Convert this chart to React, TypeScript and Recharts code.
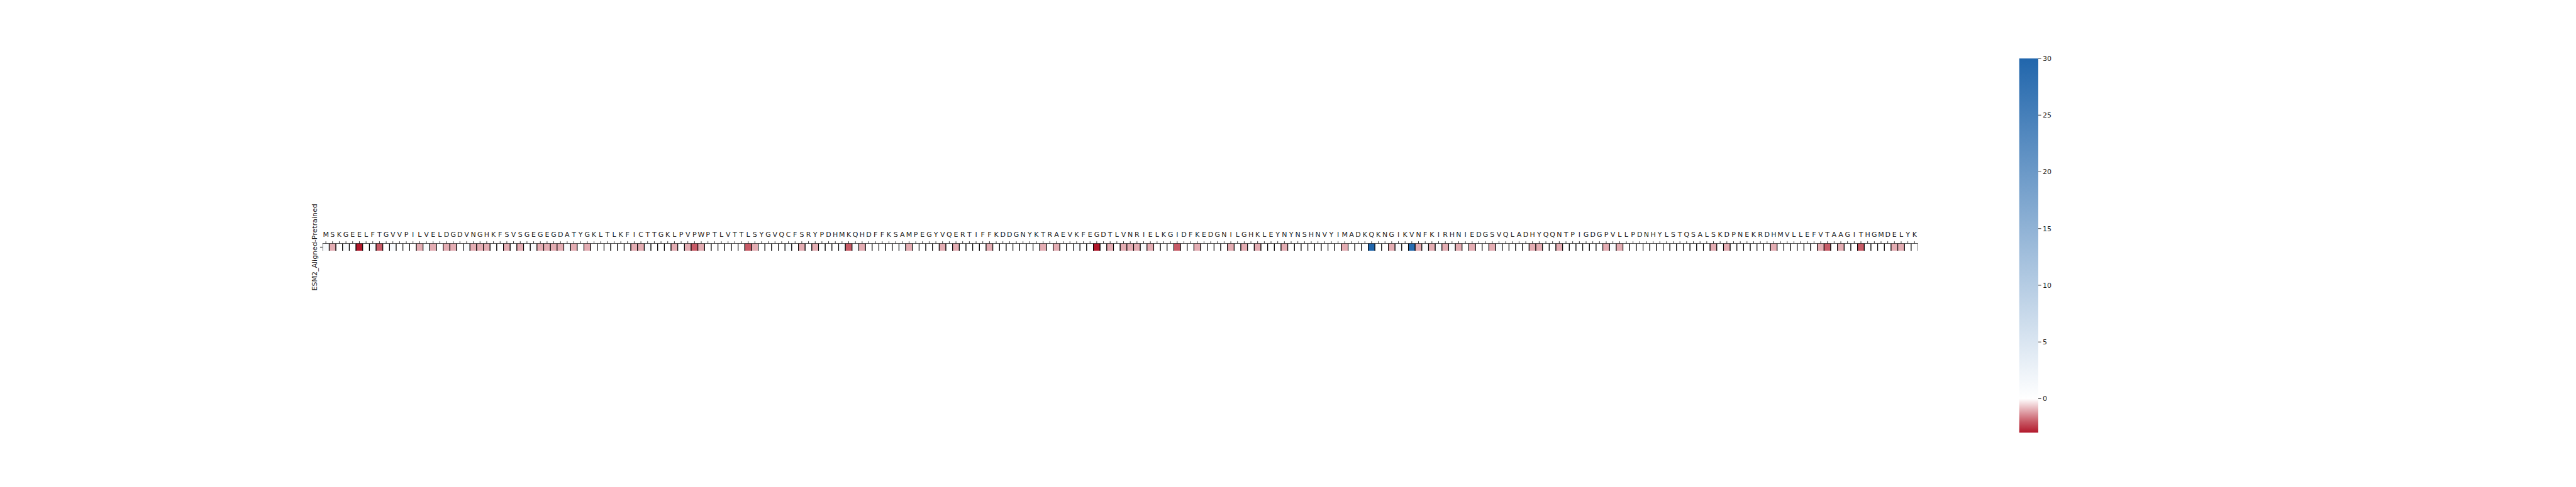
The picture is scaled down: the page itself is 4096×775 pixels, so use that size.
import {
  ComposedChart,
  ReferenceArea,
  Scatter,
  ScatterChart,
  XAxis,
  YAxis,
} from 'recharts'

// GFP sequence, one residue per column (tick labels on the top axis)
const SEQUENCE =
  'MSKGEELFTGVVPILVELDGDVNGHKFSVSGEGEGDATYGKLTLKFICTTGKLPVPWPTLVTTLSYGVQCFSRYPDHMKQ' +
  'HDFFKSAMPEGYVQERTIFFKDDGNYKTRAEVKFEGDTLVNRIELKGIDFKEDGNILGHKLEYNYNSHNVYIMADKQKNG' +
  'IKVNFKIRHNIEDGSVQLADHYQQNTPIGDGPVLLPDNHYLSTQSALSKDPNEKRDHMVLLEFVTAAGITHGMDELYK'
const RESIDUES = SEQUENCE.split('')

// per-residue score (rows of 10)
const SCORES = [
  1, -1, 0, 1, 0, -3, 0, 1, -2, 0,
  1, 0, 0, 0, -1, 1, -1, 0, -1, -1,
  0, 1, -1, -1, -1, 0, 0, -1, 0, -1,
  0, 1, -1, -1, -1, -1, 1, -1, 0, -1,
  0, 0, 0, 0, 0, 0, -1, -1, 1, 0,
  0, 0, -1, 0, -1, -2, -1, 0, 0, 0,
  0, 0, 0, -2, -1, 0, 0, 0, 0, 1,
  0, -1, 0, -1, 0, 0, 0, 1, -2, 1,
  -1, 0, 0, 0, 0, 0, 1, -1, 0, 0,
  0, 0, -1, 0, -1, 0, 0, 0, 0, -1,
  0, 0, 0, 0, 0, 0, 0, -1, 0, -1,
  0, 0, 1, 0, 0, -3, 0, -1, 0, -1,
  -1, -1, 1, -1, 0, 0, 0, -2, 0, 0,
  -1, 0, 0, 0, 0, -1, 0, -1, 0, -1,
  0, 0, 0, -1, 0, 0, 0, 0, 0, 0,
  0, 0, -1, 0, 0, 0, 30, 0, 0, -1,
  1, 0, 29, -1, 1, -1, 1, -1, 1, -1,
  0, -1, 0, 0, -1, 1, 0, 0, 0, 0,
  -1, -1, 0, 0, -1, 0, 0, 0, 0, 0,
  0, -1, 1, -1, 0, 0, 0, 0, 0, 0,
  0, 0, 0, 0, 0, 0, 0, -1, 0, -1,
  0, 0, 0, 0, 0, 0, -1, 0, 0, 0,
  0, 0, 0, -1, -2, 0, -1, 0, 0, -2,
  0, 0, 0, 0, -1, -1, 0, 0,
]

// colour scale: value stops and colours (diverging, centred on 0)
const CMAP_VALUES = [-3, -2, -1, 0, 30]
const CMAP_COLORS = ['#b2182b', '#c85b67', '#e4adb3', '#ffffff', '#2166ac']
const CBAR_TICKS = [0, 5, 10, 15, 20, 25, 30]
const CBAR_DOMAIN: [number, number] = [-3, 30]

const FONT = 'DejaVu Sans, sans-serif'
const TEXT = '#1a1a1a'

const W = 4096
const H = 775
const PLOT_L = 512.8
const PLOT_R = 3049.6
const PLOT_T = 387.8
const PLOT_B = 398.9
const CELL_W = (PLOT_R - PLOT_L) / RESIDUES.length
const CELL_H = PLOT_B - PLOT_T
const Y_AXIS_W = 25.6
const X_AXIS_H = 30

const hexToRgb = (h: string) => [1, 3, 5].map((i) => parseInt(h.slice(i, i + 2), 16))

function colorFor(v: number) {
  const vs = CMAP_VALUES
  if (v <= vs[0]) return CMAP_COLORS[0]
  if (v >= vs[vs.length - 1]) return CMAP_COLORS[vs.length - 1]
  let i = 0
  while (v > vs[i + 1]) i++
  const t = (v - vs[i]) / (vs[i + 1] - vs[i])
  const a = hexToRgb(CMAP_COLORS[i])
  const b = hexToRgb(CMAP_COLORS[i + 1])
  const c = a.map((x, k) => Math.round(x + (b[k] - x) * t))
  return `rgb(${c[0]},${c[1]},${c[2]})`
}

const rows = RESIDUES.map((r, i) => ({ pos: i + 1, y: 0.5, residue: r, score: SCORES[i] }))
const positions = rows.map((d) => d.pos)

function CellShape(props: unknown) {
  const { cx, cy, payload } = props as {
    cx: number
    cy: number
    payload: { score: number }
  }
  const x0 = cx - CELL_W / 2
  const x1 = cx + CELL_W / 2
  const y0 = cy - CELL_H / 2
  const y1 = cy + CELL_H / 2
  return (
    <g>
      <rect x={x0} y={y0} width={CELL_W} height={CELL_H} fill={colorFor(payload.score)} />
      <line x1={x0} x2={x0} y1={y0} y2={y1} stroke="#000" strokeWidth={1.1} />
      <line x1={x1} x2={x1} y1={y0} y2={y1} stroke="#000" strokeWidth={1.1} />
    </g>
  )
}

export default function App() {
  const span = CBAR_DOMAIN[1] - CBAR_DOMAIN[0]
  // gradient stops must run top (max value) to bottom (min value)
  const stops = CMAP_VALUES.map((v, i) => ({ v, c: CMAP_COLORS[i] })).reverse()
  return (
    <div style={{ position: 'absolute', left: 0, top: 0, width: W, height: H, background: '#fff' }}>
      <div style={{ position: 'absolute', left: 0, top: 0 }}>
        <ScatterChart
          width={W}
          height={H}
          margin={{
            top: PLOT_T - X_AXIS_H,
            left: PLOT_L - Y_AXIS_W,
            right: W - PLOT_R,
            bottom: H - PLOT_B,
          }}
        >
          <XAxis
            type="number"
            dataKey="pos"
            orientation="top"
            domain={[0.5, RESIDUES.length + 0.5]}
            ticks={positions}
            interval={0}
            tickFormatter={(v: number) => RESIDUES[v - 1] ?? ''}
            height={X_AXIS_H}
            tickSize={3.9}
            tickMargin={7}
            axisLine={{ stroke: '#000', strokeWidth: 1.1 }}
            tickLine={{ stroke: '#000', strokeWidth: 0.8 }}
            tick={{ fontSize: 11, fill: TEXT, fontFamily: FONT }}
            allowDataOverflow
          />
          <YAxis
            type="number"
            dataKey="y"
            domain={[0, 1]}
            ticks={[0.5]}
            tickFormatter={() => ''}
            width={Y_AXIS_W}
            axisLine={false}
            tickSize={3.9}
            tickLine={{ stroke: '#000', strokeWidth: 0.8 }}
            label={{
              value: 'ESM2_Aligned-Pretrained',
              angle: -90,
              position: 'center',
              style: { fontSize: 11, fill: TEXT, fontFamily: FONT },
            }}
          />
          <Scatter data={rows} shape={CellShape} isAnimationActive={false} />
        </ScatterChart>
      </div>

      {/* colour bar */}
      <div style={{ position: 'absolute', left: 3200, top: 0 }}>
        <ComposedChart
          width={120}
          height={H}
          data={[{ x: 0 }, { x: 1 }]}
          margin={{ top: 93, bottom: 86.4, left: 10.7, right: 0 }}
        >
          <defs>
            <linearGradient id="cbar" x1="0" y1="0" x2="0" y2="1">
              {stops.map((s) => (
                <stop key={s.v} offset={(CBAR_DOMAIN[1] - s.v) / span} stopColor={s.c} />
              ))}
            </linearGradient>
          </defs>
          <XAxis type="number" dataKey="x" domain={[0, 1]} hide />
          <YAxis
            type="number"
            orientation="right"
            domain={CBAR_DOMAIN}
            ticks={CBAR_TICKS}
            interval={0}
            width={79}
            axisLine={false}
            tickSize={4.6}
            tickMargin={2.3}
            tickLine={{ stroke: '#000', strokeWidth: 0.8 }}
            tick={{ fontSize: 11, fill: TEXT, fontFamily: FONT }}
            allowDataOverflow
          />
          <ReferenceArea
            y1={CBAR_DOMAIN[0]}
            y2={CBAR_DOMAIN[1]}
            fill="url(#cbar)"
            fillOpacity={1}
            stroke="none"
            ifOverflow="visible"
          />
        </ComposedChart>
      </div>
    </div>
  )
}
